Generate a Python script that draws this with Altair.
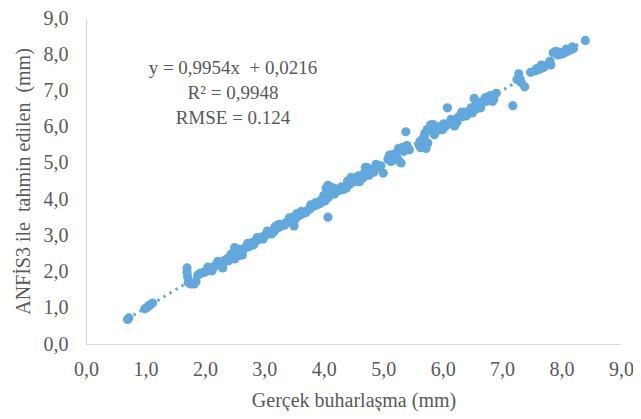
import altair as alt
import pandas as pd

# Gerçek (actual) evaporation values, mm
x_actual = [
    0.70, 0.72, 0.99, 1.02, 1.05, 1.08, 1.12,
    1.70, 1.70, 1.71, 1.72, 1.76, 1.82, 1.85,
    1.88, 1.92, 1.97, 2.02, 2.06, 2.10, 2.14, 2.18, 2.20, 2.24, 2.27, 2.30, 2.32, 2.35, 2.38,
    2.42, 2.45, 2.48, 2.50, 2.50, 2.52, 2.55, 2.57, 2.60, 2.62, 2.65, 2.68, 2.70, 2.73, 2.76,
    2.78, 2.80, 2.84, 2.87, 2.90, 2.93, 2.96, 3.00, 3.03, 3.06, 3.10, 3.13, 3.16, 3.20, 3.22,
    3.25, 3.28, 3.32, 3.36, 3.40, 3.44, 3.48, 3.50, 3.52, 3.56, 3.60, 3.64, 3.68, 3.72, 3.76,
    3.80, 3.84, 3.88, 3.92, 3.95, 3.98, 4.00, 4.02, 4.05, 4.07, 4.08, 4.10, 4.12, 4.07, 4.16,
    4.20, 4.26, 4.32, 4.38, 4.40, 4.44, 4.48, 4.52, 4.56, 4.60, 4.63, 4.67, 4.70, 4.72, 4.76,
    4.80, 4.84, 4.90, 4.96, 5.00, 5.08, 5.10, 5.13, 5.16, 5.20, 5.24, 5.28, 5.30, 5.32, 5.35,
    5.38, 5.40, 5.44, 5.60, 5.63, 5.66, 5.68, 5.70, 5.72, 5.75, 5.78, 5.80, 5.82, 5.86, 5.90,
    5.95, 6.00, 6.05, 6.08, 6.12, 6.16, 6.20, 6.22, 6.26, 6.30, 6.34, 6.38, 6.42, 6.46, 6.50,
    6.53, 6.56, 6.58, 6.62, 6.66, 6.70, 6.74, 6.78, 6.82, 6.86, 6.90, 7.18, 7.25, 7.28, 7.32,
    7.38, 7.48, 7.55, 7.62, 7.68, 7.72, 7.78, 7.82, 7.86, 7.90, 7.94, 8.00, 8.05, 8.10, 8.15,
    8.20, 8.40,
    2.05, 2.12, 2.22, 2.28, 2.40, 2.44, 2.56, 2.63, 2.72, 2.82, 2.88, 2.98, 3.05, 3.12, 3.18,
    3.26, 3.34, 3.42, 3.55, 3.62, 3.70, 3.78, 3.86, 3.94, 4.04, 4.14, 4.18, 4.30, 4.46, 4.58,
    4.66, 4.74, 4.78, 4.88, 5.12, 5.18, 5.26, 5.36, 5.62, 5.70, 5.74, 5.84, 5.92, 6.02, 6.14,
    6.24, 6.32, 6.40, 6.48, 6.60, 6.64, 6.72, 6.80, 6.84, 7.58, 7.66, 7.80, 7.96, 8.08, 8.18,
]
# ANFİS3 predicted values, mm
y_pred = [
    0.68, 0.72, 0.97, 1.00, 1.05, 1.08, 1.13,
    2.10, 1.98, 1.85, 1.70, 1.66, 1.66, 1.72,
    1.90, 1.95, 1.97, 2.00, 2.05, 2.08, 2.12, 2.16, 2.22, 2.20, 2.25, 2.10, 2.30, 2.28, 2.36,
    2.40, 2.38, 2.46, 2.66, 2.35, 2.58, 2.50, 2.44, 2.58, 2.52, 2.62, 2.66, 2.70, 2.68, 2.75,
    2.72, 2.80, 2.82, 2.86, 2.88, 2.92, 2.95, 2.98, 3.02, 3.05, 3.08, 3.12, 3.10, 3.18, 3.28,
    3.22, 3.26, 3.30, 3.34, 3.38, 3.42, 3.50, 3.26, 3.45, 3.52, 3.56, 3.60, 3.62, 3.68, 3.72,
    3.78, 3.82, 3.84, 3.90, 3.96, 4.00, 4.10, 3.95, 4.20, 4.38, 4.05, 4.28, 4.15, 3.50, 4.22,
    4.28, 4.24, 4.26, 4.30, 4.50, 4.42, 4.52, 4.48, 4.56, 4.48, 4.62, 4.70, 4.88, 4.78, 4.66,
    4.80, 4.74, 4.88, 4.92, 4.72, 5.10, 5.20, 5.04, 5.16, 5.25, 5.12, 5.35, 5.00, 5.42, 5.32,
    5.86, 5.48, 5.36, 5.50, 5.42, 5.58, 5.70, 5.82, 5.40, 5.55, 5.95, 6.05, 5.88, 5.78, 5.98,
    6.00, 5.92, 6.02, 6.52, 6.08, 6.12, 6.02, 6.18, 6.26, 6.32, 6.28, 6.40, 6.36, 6.44, 6.38,
    6.78, 6.62, 6.50, 6.58, 6.66, 6.74, 6.70, 6.80, 6.72, 6.76, 6.92, 6.58, 7.30, 7.46, 7.22,
    7.10, 7.50, 7.54, 7.58, 7.62, 7.66, 7.74, 7.70, 8.04, 8.08, 7.98, 8.00, 8.04, 8.08, 8.12,
    8.16, 8.38,
    2.12, 2.02, 2.28, 2.18, 2.30, 2.48, 2.62, 2.46, 2.78, 2.74, 2.94, 2.90, 3.12, 3.04, 3.24,
    3.30, 3.28, 3.48, 3.60, 3.66, 3.64, 3.84, 3.90, 3.88, 4.30, 4.32, 4.14, 4.34, 4.60, 4.64,
    4.58, 4.86, 4.72, 4.96, 5.22, 5.08, 5.40, 5.44, 5.60, 5.50, 5.92, 6.06, 5.90, 6.08, 6.20,
    6.12, 6.40, 6.30, 6.52, 6.68, 6.52, 6.80, 6.86, 6.70, 7.60, 7.70, 7.80, 8.06, 8.14, 8.20,
]

axis_ticks = [0, 1, 2, 3, 4, 5, 6, 7, 8, 9]
NB = "\u00a0"
annotation_lines = ["y = 0,9954x " + NB + "+ 0,0216", "R² = 0,9948", "RMSE = 0.124"]
y_title = "ANFİS3 ile " + NB + "tahmin edilen " + NB + "(mm)"

BLUE = "#62A8DC"
GREY = "#595959"
FONT = "Liberation Serif"
label_expr = "replace(format(datum.value, '.1f'), '.', ',')"

df = pd.DataFrame({"gercek": x_actual, "tahmin": y_pred})
ann = pd.DataFrame({"line": annotation_lines, "i": list(range(len(annotation_lines)))})

x_enc = alt.X(
    "gercek:Q",
    scale=alt.Scale(domain=[0, 9], nice=False, zero=False),
    axis=alt.Axis(
        values=axis_ticks, labelExpr=label_expr, title="Gerçek buharlaşma (mm)",
        grid=False, ticks=False, domainColor="#D9D9D9", domainWidth=1.2,
        labelFlush=False, labelOverlap=False,
        labelFont=FONT, labelFontSize=20, labelColor=GREY, labelPadding=15,
        titleFont=FONT, titleFontSize=20, titleColor=GREY, titleFontWeight="normal",
        titlePadding=11,
    ),
)
y_enc = alt.Y(
    "tahmin:Q",
    scale=alt.Scale(domain=[0, 9], nice=False, zero=False),
    axis=alt.Axis(
        values=axis_ticks, labelExpr=label_expr, title=y_title,
        grid=False, ticks=False, domainColor="#D9D9D9", domainWidth=1.2,
        labelFlush=False, labelOverlap=False,
        labelFont=FONT, labelFontSize=20, labelColor=GREY, labelPadding=18,
        titleFont=FONT, titleFontSize=20, titleColor=GREY, titleFontWeight="normal",
        titlePadding=10,
    ),
)

base = alt.Chart(df)

trend = base.transform_regression("gercek", "tahmin").mark_line(
    color=BLUE, strokeDash=[2.5, 4.5], strokeWidth=3
).encode(x=x_enc, y=y_enc)

points = base.mark_circle(size=85, color=BLUE, opacity=1).encode(x=x_enc, y=y_enc)

text = alt.Chart(ann).transform_calculate(py="50 + datum.i * 25").mark_text(
    font=FONT, fontSize=19, color=GREY, align="center", baseline="middle"
).encode(
    x=alt.value(147),
    y=alt.Y("py:Q", scale=None),
    text="line:N",
)

chart = alt.layer(trend, points, text).properties(
    width=535, height=326,
    autosize=alt.AutoSizeParams(type="none"),
    padding={"left": 78, "top": 10, "right": 12, "bottom": 67},
).configure_view(stroke=None)

chart.save("out.html", embed_options={"renderer": "svg", "actions": False})
